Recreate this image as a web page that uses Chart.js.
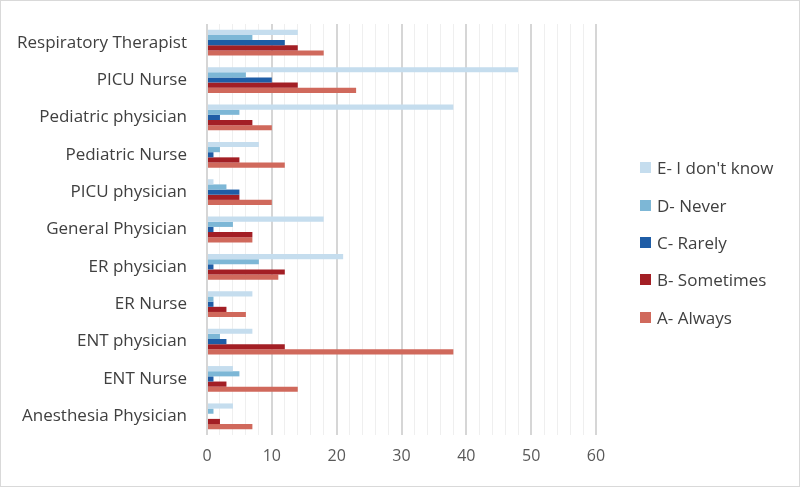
<!DOCTYPE html>
<html>
<head>
<meta charset="utf-8">
<script src="https://cdn.jsdelivr.net/npm/chart.js@4"></script>
<style>
  html, body { margin: 0; padding: 0; background: #fff; }
  #wrap { position: relative; width: 798px; height: 485px; border: 1px solid #d9d9d9; }
  #legend { position: absolute; left: 639px; top: 148px; font-family: "Open Sans", sans-serif; font-size: 17px; color: #404040; }
  #legend div { height: 37.4px; display: flex; align-items: center; white-space: nowrap; }
  #legend span.box { display: inline-block; width: 11px; height: 11px; margin-right: 6px; }
</style>
</head>
<body>
<div id="wrap">
  <canvas id="chart" width="798" height="485"></canvas>
  <div id="legend"></div>
</div>
<script>
const categories = ["Respiratory Therapist", "PICU Nurse", "Pediatric physician", "Pediatric Nurse",
    "PICU physician", "General Physician", "ER physician", "ER Nurse", "ENT physician",
    "ENT Nurse", "Anesthesia Physician"];

const seriesNames = ["E- I don't know", "D- Never", "C- Rarely", "B- Sometimes", "A- Always"];
const seriesColors = ["#c5ddee", "#7db7d6", "#1f5da6", "#a31f25", "#d0695c"];

const dontKnow  = [14, 48, 38, 8, 1, 18, 21, 7, 7, 4, 4];
const never     = [7, 6, 5, 2, 3, 4, 8, 1, 2, 5, 1];
const rarely    = [12, 10, 2, 1, 5, 1, 1, 1, 3, 1, 0];
const sometimes = [14, 14, 7, 5, 5, 7, 12, 3, 12, 3, 2];
const always    = [18, 23, 10, 12, 10, 7, 11, 6, 38, 14, 7];

const xTicks = [0, 10, 20, 30, 40, 50, 60];

const seriesData = [dontKnow, never, rarely, sometimes, always];

const ctx = document.getElementById('chart').getContext('2d');

const chart = new Chart(ctx, {
    type: 'bar',
    data: {
        labels: categories,
        datasets: seriesNames.map((name, i) => ({
            label: name,
            data: seriesData[i],
            backgroundColor: seriesColors[i],
            borderWidth: 0,
            categoryPercentage: 0.69,
            barPercentage: 1
        }))
    },
    options: {
        indexAxis: 'y',
        responsive: false,
        animation: false,
        layout: { padding: { top: 23, right: 203, bottom: 0, left: 0 } },
        plugins: {
            legend: { display: false },
            tooltip: { enabled: false }
        },
        scales: {
            x: {
                min: 0,
                max: 60,
                border: { display: false },
                grid: {
                    drawTicks: false,
                    color: c => (c.tick && c.tick.value % 10 === 0) ? '#d6d6d6' : '#efefef',
                    lineWidth: c => (c.tick && c.tick.value % 10 === 0) ? 2 : 1
                },
                ticks: {
                    stepSize: 2,
                    autoSkip: false,
                    maxRotation: 0,
                    padding: 12,
                    color: '#595959',
                    font: { family: 'Open Sans', size: 16 },
                    callback: v => xTicks.includes(v) ? v : ''
                },
                afterFit: scale => {
                    scale.height = 51;
                    scale.paddingLeft = 0;
                    scale.paddingRight = 0;
                }
            },
            y: {
                border: { display: false },
                grid: { display: false, drawTicks: false },
                ticks: {
                    padding: 20,
                    color: '#404040',
                    font: { family: 'Open Sans', size: 17 }
                },
                afterFit: scale => {
                    scale.width = 206;
                    scale.paddingTop = 0;
                    scale.paddingBottom = 0;
                }
            }
        }
    }
});

// legend built from the chart's own datasets
const legendEl = document.getElementById('legend');
chart.data.datasets.forEach(ds => {
    const row = document.createElement('div');
    row.innerHTML = `<span class="box" style="background:${ds.backgroundColor}"></span>${ds.label}`;
    legendEl.appendChild(row);
});
</script>
</body>
</html>
